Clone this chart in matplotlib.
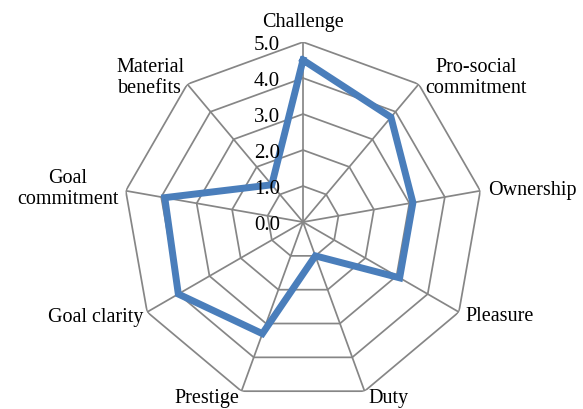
import numpy as np
import matplotlib
matplotlib.use('Agg')
import matplotlib.pyplot as plt

categories = ['Challenge', 'Pro-social\ncommitment', 'Ownership', 'Pleasure', 'Duty',
              'Prestige', 'Goal clarity', 'Goal\ncommitment', 'Material\nbenefits']
values = [4.5, 3.8, 3.1, 3.1, 1.0, 3.3, 4.0, 3.9, 1.35]
rings = [0, 1, 2, 3, 4, 5]
ring_labels = ['0.0', '1.0', '2.0', '3.0', '4.0', '5.0']

# label placement next to each outer vertex (pixels), alignment
label_offsets = [(0, 21), (7, 7), (8, 1), (7, -3), (4, -6), (-2, -6), (-4, -4), (-7, 3), (-3, 7)]
label_ha = ['center', 'left', 'left', 'left', 'left', 'right', 'right', 'right', 'right']

plt.rcParams['font.family'] = ['Liberation Serif', 'DejaVu Serif']

n = len(categories)
theta = np.linspace(0, 2 * np.pi, n, endpoint=False)
theta_c = np.append(theta, theta[0])

fig = plt.figure(figsize=(5.83, 4.10), dpi=100)
ax = fig.add_axes([0.211, 0.017, 0.6175, 0.878], projection='polar')
ax.set_theta_offset(np.pi / 2)
ax.set_theta_direction(-1)
ax.set_ylim(0, 5)
ax.grid(False)
ax.spines['polar'].set_visible(False)
ax.set_xticks([])
ax.set_yticks([])
ax.patch.set_alpha(0)

grid_col = '#868686'
for r in rings[1:]:
    ax.plot(theta_c, [r] * (n + 1), color=grid_col, lw=1.25, zorder=1)
for t in theta:
    ax.plot([t, t], [0, 5], color=grid_col, lw=1.25, zorder=1)

ax.plot(theta_c, values + values[:1], color='#4A7EBB', lw=5, solid_joinstyle='miter', zorder=3)

for r, lab in zip(rings, ring_labels):
    ax.annotate(lab, xy=(0, r), xytext=(-23, -2), textcoords='offset pixels',
                ha='right', va='center', fontsize=15, color='black', zorder=4)

for t, lab, off, ha in zip(theta, categories, label_offsets, label_ha):
    ax.annotate(lab, xy=(t, 5), xytext=off, textcoords='offset pixels',
                ha=ha, va='center', multialignment='center', fontsize=14.5,
                color='black', linespacing=1.15, annotation_clip=False)

fig.savefig('out.png', dpi=100)
